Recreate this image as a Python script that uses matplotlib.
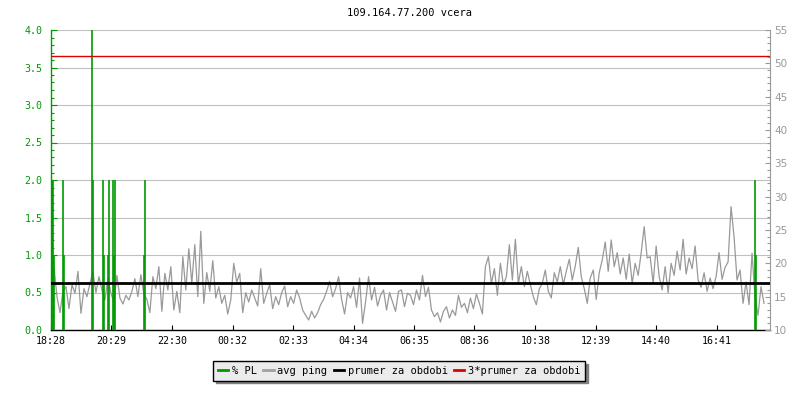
import numpy as np
import pandas as pd
import matplotlib
matplotlib.use('Agg')
import matplotlib.pyplot as plt
from matplotlib.lines import Line2D
from matplotlib.ticker import MultipleLocator, FormatStrFormatter

# data
title = '109.164.77.200 vcera'
start = pd.Timestamp('2024-03-10 18:28')
step_min = 6  # one ping sample every 6 minutes

ping_ms = [
    # 18:28 - 22:28
    14.0, 19.5, 15.0, 12.6, 15.8, 16.5, 13.2, 16.8, 15.5, 18.8,
    12.5, 16.2, 15.0, 17.0, 18.7, 15.6, 18.0, 16.0, 14.5, 17.8,
    15.5, 14.2, 18.2, 14.8, 13.9, 15.2, 14.5, 15.8, 17.7, 15.0,
    18.3, 15.4, 14.6, 12.6, 18.0, 16.2, 19.5, 12.8, 18.5, 16.0,
    # 22:28 - 02:28
    19.5, 13.0, 15.8, 12.6, 21.0, 16.0, 22.2, 17.0, 22.8, 15.0,
    24.8, 14.0, 18.6, 15.8, 20.4, 14.8, 16.5, 14.0, 15.2, 12.4,
    14.5, 20.0, 17.2, 18.5, 12.6, 15.6, 14.2, 16.0, 14.8, 13.6,
    19.2, 14.0, 15.5, 16.8, 13.2, 15.0, 13.8, 15.6, 16.6, 13.5,
    # 02:28 - 06:28
    15.0, 14.0, 16.0, 14.8, 13.0, 12.2, 11.5, 12.8, 11.8, 12.6,
    13.8, 14.6, 15.8, 17.3, 15.0, 16.2, 18.0, 14.6, 12.4, 15.6,
    14.8, 16.5, 13.4, 17.8, 11.0, 14.2, 18.0, 14.5, 16.4, 13.6,
    15.2, 16.0, 13.0, 15.6, 14.2, 12.8, 15.8, 16.0, 13.5, 15.5,
    # 06:28 - 10:28
    15.2, 13.8, 16.0, 14.5, 18.2, 15.0, 16.4, 13.0, 12.0, 12.6,
    11.2, 12.8, 13.5, 11.8, 13.0, 12.2, 15.2, 13.4, 14.0, 12.6,
    14.8, 13.2, 15.4, 14.0, 12.4, 19.5, 21.0, 17.0, 19.2, 15.2,
    20.0, 16.8, 18.0, 22.8, 17.5, 23.6, 17.0, 19.5, 16.5, 18.8,
    # 10:28 - 14:28
    16.8, 15.0, 13.8, 16.2, 17.0, 19.0, 15.8, 14.8, 18.6, 17.2,
    19.5, 16.8, 18.8, 20.6, 17.5, 19.6, 22.4, 18.0, 16.2, 14.0,
    17.8, 19.0, 14.6, 18.6, 20.5, 23.2, 18.8, 23.5, 19.5, 21.6,
    18.4, 20.8, 17.6, 21.4, 17.0, 20.0, 18.2, 21.6, 25.5, 20.8,
    # 14:28 - 18:22
    21.0, 17.0, 22.6, 18.0, 16.0, 19.5, 15.6, 20.0, 18.2, 21.8,
    19.0, 23.6, 18.4, 20.8, 19.2, 22.6, 17.5, 16.4, 18.6, 15.8,
    17.8, 16.2, 18.0, 21.6, 17.6, 19.4, 20.2, 28.5, 24.0, 17.5,
    19.0, 14.0, 17.2, 13.8, 21.5, 15.0, 12.2, 16.5, 14.0,
]

# packet loss spikes: minutes after start, percent
pl_minutes = [0, 2, 4, 6, 24, 26, 82, 84, 104, 106, 114, 116,
              124, 126, 128, 186, 188, 1410, 1412]
pl_pct = [1, 2, 2, 1, 2, 1, 4, 2, 2, 1, 1, 2,
          2, 1, 2, 1, 2, 2, 1]

mean_ping = 17.05  # prumer za obdobi

tick_labels = ['18:28', '20:29', '22:30', '00:32', '02:33', '04:34',
               '06:35', '08:36', '10:38', '12:39', '14:40', '16:41']

GREEN = '#009900'
GRAY = '#999999'
RED = '#dd0000'

plt.rcParams['font.family'] = ['DejaVu Sans Mono']

times = start + pd.to_timedelta(np.arange(len(ping_ms)) * step_min, unit='min')
pl_times = start + pd.to_timedelta(pl_minutes, unit='min')

# tick positions from the labels (roll over midnight)
tick_pos = []
day = start.normalize()
prev = None
for lab in tick_labels:
    t = day + pd.Timedelta(hours=int(lab[:2]), minutes=int(lab[3:]))
    if prev is not None and t < prev:
        day += pd.Timedelta(days=1)
        t += pd.Timedelta(days=1)
    tick_pos.append(t)
    prev = t

fig = plt.figure(figsize=(8, 4), dpi=100)
ax = fig.add_axes([51 / 800, 70 / 400, 719 / 800, 300 / 400])
ax2 = ax.twinx()

# left axis: % PL
ax.set_ylim(0, 4)
ax.set_xlim(start, start + pd.Timedelta(hours=24))
ax.set_yticks(np.arange(0, 4.01, 0.5))
ax.yaxis.set_minor_locator(MultipleLocator(0.1))
ax.yaxis.set_major_formatter(FormatStrFormatter('%.1f'))
ax.grid(axis='y', color='#c0c0c0', lw=0.8)
ax.set_xticks(tick_pos, tick_labels)
ax.tick_params(axis='y', which='major', direction='in', colors=GREEN,
               length=4.3, width=0.8, labelsize=7.2, pad=6)
ax.tick_params(axis='y', which='minor', direction='in', colors=GREEN,
               length=2.3, width=0.8)
ax.tick_params(axis='x', direction='in', length=3.6, width=0.8,
               labelsize=7.2, pad=4)
ax.spines['top'].set_visible(False)
ax.spines['right'].set_visible(False)
ax.spines['left'].set_color(GREEN)
ax.spines['left'].set_linewidth(1.0)
ax.spines['bottom'].set_linewidth(1.0)

# right axis: ping in ms
ax2.set_ylim(10, 55)
ax2.set_yticks(np.arange(10, 56, 5))
ax2.yaxis.set_minor_locator(MultipleLocator(1))
ax2.tick_params(axis='y', which='major', direction='in', colors=GRAY,
                length=3.6, width=0.8, labelsize=7.5, pad=3)
ax2.tick_params(axis='y', which='minor', direction='in', colors=GRAY,
                length=2.2, width=0.8)
for lab in ax2.get_yticklabels():
    lab.set_family('DejaVu Sans')
for s in ['top', 'left', 'bottom']:
    ax2.spines[s].set_visible(False)
ax2.spines['right'].set_color(GRAY)

ax2.plot(times, ping_ms, color=GRAY, lw=0.9, zorder=2)
ax2.vlines(pl_times, 0, pl_pct, color=GREEN, lw=1.2, zorder=3,
           transform=ax.transData)
ax2.axhline(mean_ping, color='black', lw=2.0, zorder=4)
ax2.axhline(3 * mean_ping, color=RED, lw=1.0, zorder=4)

fig.text(410 / 800, 1 - 13 / 400, title, ha='center', va='center', fontsize=7.5)

handles = [Line2D([], [], color=GREEN, lw=2),
           Line2D([], [], color='#a0a0a0', lw=2),
           Line2D([], [], color='black', lw=2),
           Line2D([], [], color=RED, lw=2)]
labels = ['% PL', 'avg ping', 'prumer za obdobi', '3*prumer za obdobi']
leg = fig.legend(handles, labels, loc='center', bbox_to_anchor=(0.499, 0.0725),
                 ncol=4, fancybox=False, shadow={'color': '#808080', 'alpha': 1},
                 edgecolor='black', facecolor='#ebebeb', framealpha=1,
                 fontsize=7.5, handlelength=1.0, handletextpad=0.35,
                 columnspacing=0.6, borderpad=0.45)
leg.get_frame().set_linewidth(1.0)

fig.savefig('out.png', dpi=100)
